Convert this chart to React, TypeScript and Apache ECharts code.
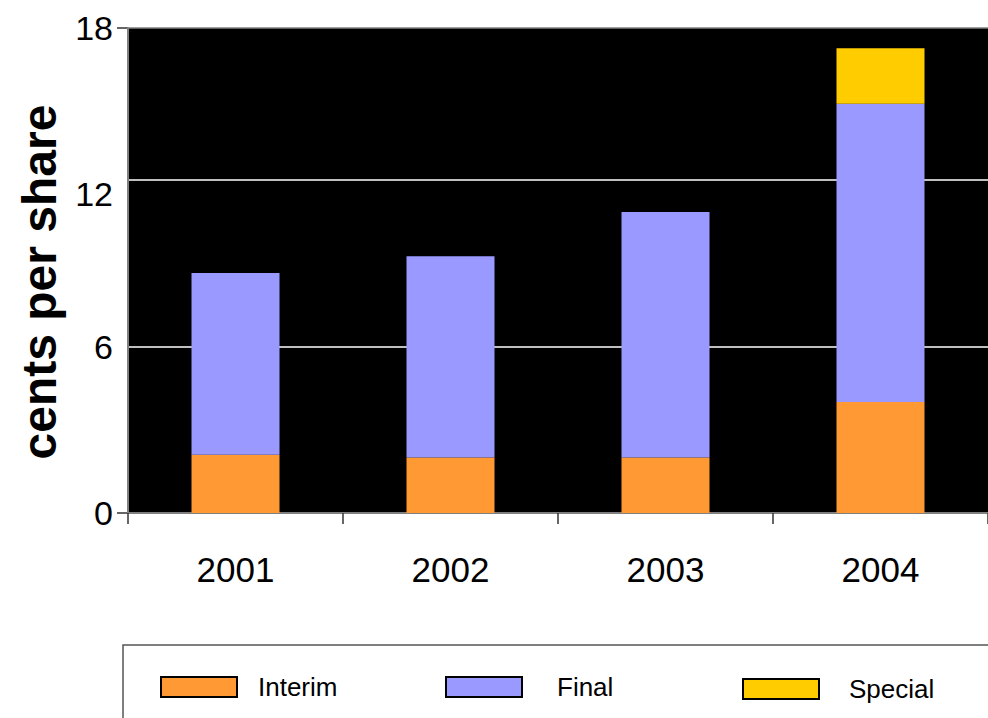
import React, { useEffect, useRef } from "react";
import * as echarts from "echarts";

const years = ["2001", "2002", "2003", "2004"];
const interim = [2.1, 2.0, 2.0, 4.0];
const finalDiv = [6.55, 7.25, 8.85, 10.75];
const special = [null, null, null, 2.0];
const seriesNames = ["Interim", "Final", "Special"];
const seriesColors = ["#FF9933", "#9999FF", "#FFCC00"];
const yTickStep = 6;
const yTopLabel = "18";

const FONT = "'Liberation Sans', Arial, Helvetica, sans-serif";

export default function App() {
  const ref = useRef<HTMLDivElement>(null);

  useEffect(() => {
    if (!ref.current) return;
    const chart = echarts.init(ref.current, null, { renderer: "svg" });
    const gridTop = 28;
    const gridBottomY = 513;
    const pxPerUnit = (gridBottomY - 346.5) / yTickStep;
    const yMax = Math.round(((gridBottomY - gridTop) / pxPerUnit) * 100) / 100;

    const legendLefts = [160, 445, 742];
    const legendPads = [16, 30, 25];
    const legendTops = [674, 674, 676];

    chart.setOption({
      animation: false,
      backgroundColor: "#ffffff",
      textStyle: { fontFamily: FONT },
      grid: {
        left: 128,
        right: 0,
        top: gridTop,
        bottom: 718 - gridBottomY,
        show: true,
        backgroundColor: "#000000",
        borderWidth: 0,
        containLabel: false,
      },
      legend: seriesNames.map((n, i) => ({
        data: [n],
        left: legendLefts[i],
        top: legendTops[i],
        padding: 0,
        itemWidth: 76,
        itemHeight: 20,
        selectedMode: false,
        icon: "rect",
        itemStyle: { borderColor: "#000000", borderWidth: 2 },
        textStyle: {
          fontFamily: FONT,
          fontSize: 26,
          color: "#000000",
          padding: [0, 0, 0, legendPads[i]],
        },
      })),
      xAxis: {
        type: "category",
        data: years,
        boundaryGap: true,
        axisLine: { show: true, lineStyle: { color: "#808080", width: 2 } },
        axisTick: {
          show: true,
          alignWithLabel: false,
          length: 11,
          lineStyle: { color: "#333333", width: 1.5 },
        },
        axisLabel: {
          fontFamily: FONT,
          fontSize: 35,
          color: "#000000",
          margin: 39,
        },
        splitLine: { show: false },
      },
      yAxis: {
        type: "value",
        min: 0,
        max: yMax,
        interval: yTickStep,
        axisLine: { show: true, lineStyle: { color: "#808080", width: 2 } },
        axisTick: { show: false },
        axisLabel: {
          fontFamily: FONT,
          fontSize: 34,
          color: "#000000",
          margin: 15,
          formatter: (v: number) =>
            v > 12 ? yTopLabel : v === 12 ? "{low|12}" : String(v),
          rich: {
            low: {
              fontFamily: FONT,
              fontSize: 34,
              color: "#000000",
              padding: [28, 0, 0, 0],
            },
          },
        },
        splitLine: {
          show: true,
          lineStyle: {
            color: ["#808080", "#ffffff", "#ffffff", "#808080"],
            width: 1.5,
          },
        },
      },
      graphic: [
        {
          type: "text",
          x: 39,
          y: 282,
          rotation: Math.PI / 2,
          style: {
            text: "cents per share",
            font: `bold 48px ${FONT}`,
            fill: "#000000",
            textAlign: "center",
            textVerticalAlign: "middle",
          },
        },
        {
          type: "line",
          shape: { x1: 117, y1: gridTop, x2: 128, y2: gridTop },
          style: { stroke: "#333333", lineWidth: 1.5 },
        },
        {
          type: "line",
          shape: { x1: 117, y1: gridBottomY, x2: 128, y2: gridBottomY },
          style: { stroke: "#333333", lineWidth: 1.5 },
        },
        {
          type: "rect",
          shape: { x: 123, y: 645, width: 900, height: 100 },
          style: { fill: "none", stroke: "#555555", lineWidth: 1.5 },
          z: -1,
        },
      ],
      series: [
        {
          name: seriesNames[0],
          type: "bar",
          stack: "div",
          data: interim,
          barWidth: 88,
          itemStyle: { color: seriesColors[0] },
        },
        {
          name: seriesNames[1],
          type: "bar",
          stack: "div",
          data: finalDiv,
          barWidth: 88,
          itemStyle: { color: seriesColors[1] },
        },
        {
          name: seriesNames[2],
          type: "bar",
          stack: "div",
          data: special,
          barWidth: 88,
          itemStyle: { color: seriesColors[2] },
        },
      ],
    });
    return () => chart.dispose();
  }, []);

  return (
    <div
      ref={ref}
      style={{ position: "absolute", left: 0, top: 0, width: 988, height: 718 }}
    />
  );
}
